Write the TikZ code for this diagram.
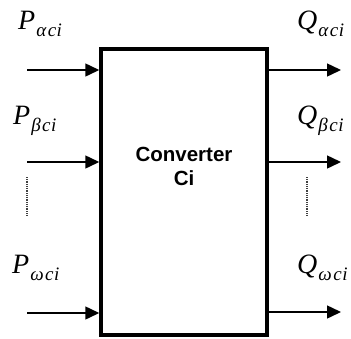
\documentclass[tikz,border=0pt]{standalone}
\usepackage{fontspec}
\setsansfont{Liberation Sans}
\newfontfamily\timesfont{Liberation Serif}
\usetikzlibrary{arrows.meta}
% channel label: letter with lowered subscript
\newcommand{\chan}[2]{{\fontsize{28}{30}\selectfont\timesfont\itshape #1}\kern1pt\raisebox{-7pt}{\fontsize{19}{20}\selectfont\timesfont\itshape #2\kern1.5pt c\kern0.5pt i}}
\begin{document}
\begin{tikzpicture}[x=1pt, y=-1pt,
    block/.style={draw, line width=3.5pt, minimum width=166pt, minimum height=286pt, inner sep=0pt},
    flow/.style={line width=1.5pt, -{Triangle[length=14pt, width=13pt]}},
    more/.style={line width=1.2pt, dash pattern=on 0.8pt off 1pt, black!75},
    sig/.style={inner sep=0pt, anchor=base west}]
  \useasboundingbox (0,0) rectangle (351,338);

  % Converter block
  \node[block] (conv) at (184,192) {};
  \node[font=\fontsize{20.5}{24}\selectfont\sffamily\bfseries, align=center] (name) at (184,166) {Converter\\Ci};

  % Inputs
  \coordinate (ina) at (27,70);
  \coordinate (inb) at (27,162);
  \coordinate (inw) at (27,313);
  \draw[flow] (ina) -- (ina -| conv.west);
  \draw[flow] (inb) -- (inb -| conv.west);
  \draw[flow] (inw) -- (inw -| conv.west);
  \node[sig] (pa) at (18,29) {\chan{P}{α}};
  \node[sig] (pb) at (13,124) {\chan{P}{β}};
  \node[sig] (pw) at (12,273) {\chan{P}{ω}};

  % Outputs
  \coordinate (outa) at (341,70);
  \coordinate (outb) at (341,162);
  \coordinate (outw) at (341,312);
  \draw[flow] (outa -| conv.east) -- (outa);
  \draw[flow] (outb -| conv.east) -- (outb);
  \draw[flow] (outw -| conv.east) -- (outw);
  \node[sig] (qa) at (297,29) {\chan{Q}{α}};
  \node[sig] (qb) at (297,124) {\chan{Q}{β}};
  \node[sig] (qw) at (297,273) {\chan{Q}{ω}};

  % Omitted channels
  \coordinate (dl1) at (27,177);
  \coordinate (dl2) at (27,215);
  \coordinate (dr1) at (307,177);
  \coordinate (dr2) at (307,215);
  \draw[more] (dl1) -- (dl2);
  \draw[more] (dr1) -- (dr2);
\end{tikzpicture}
\end{document}
